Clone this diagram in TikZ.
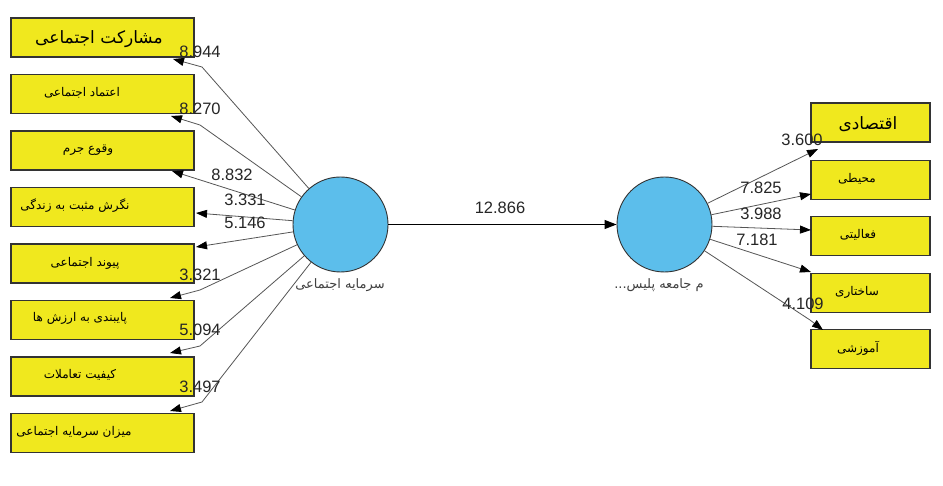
\documentclass[tikz,border=0pt]{standalone}
\usepackage{fontspec}
\setmainfont{Liberation Sans}
\newfontfamily\arabicfont[Script=Arabic]{DejaVu Sans}
\TeXXeTstate=1
\usetikzlibrary{arrows.meta}
\definecolor{boxyellow}{RGB}{240,232,30}
\definecolor{circblue}{RGB}{92,190,235}
\definecolor{linegray}{RGB}{85,85,85}
\tikzset{
  lbox/.style={draw=black!80, line width=1.1pt, fill=boxyellow, minimum width=183pt, minimum height=39pt, inner sep=0pt},
  rbox/.style={draw=black!80, line width=1.1pt, fill=boxyellow, minimum width=119pt, minimum height=39pt, inner sep=0pt},
  lv/.style={draw=black!80, line width=0.9pt, fill=circblue, circle, minimum size=95pt, inner sep=0pt},
  bigtxt/.style={font=\arabicfont\fontsize{17}{20}\selectfont, inner sep=0pt},
  smalltxt/.style={font=\arabicfont\fontsize{12}{14}\selectfont, inner sep=0pt},
  circtxt/.style={font=\arabicfont\fontsize{13}{15}\selectfont, text=black!75, inner sep=0pt},
  num/.style={font=\fontsize{16.5}{18}\selectfont, text=black!85, inner sep=0pt},
  arr/.style={draw=linegray, line width=0.8pt, -{Triangle[length=11pt,width=8pt,color=black]}},
  mainarr/.style={draw=black, line width=1.1pt, -{Triangle[length=12pt,width=9pt]}}
}
\begin{document}
\begin{tikzpicture}[x=1pt,y=-1pt]
\useasboundingbox[fill=white] (0,0) rectangle (943,486);
% left boxes
\node[lbox] (b1) at (102.5,37.5) {};
\node[lbox] (b2) at (102.5,94) {};
\node[lbox] (b3) at (102.5,150.5) {};
\node[lbox] (b4) at (102.5,207) {};
\node[lbox] (b5) at (102.5,263.5) {};
\node[lbox] (b6) at (102.5,320) {};
\node[lbox] (b7) at (102.5,376.5) {};
\node[lbox] (b8) at (102.5,433) {};
\node[bigtxt] (t1) at (99,39) {\beginR مشارکت اجتماعی\endR};
\node[smalltxt] (t2) at (82,93) {\beginR اعتماد اجتماعی\endR};
\node[smalltxt] (t3) at (88,150) {\beginR وقوع جرم\endR};
\node[smalltxt] (t4) at (75,206) {\beginR نگرش مثبت به زندگی\endR};
\node[smalltxt] (t5) at (85,263) {\beginR پیوند اجتماعی\endR};
\node[smalltxt] (t6) at (80,318) {\beginR پایبندی به ارزش ها\endR};
\node[smalltxt] (t7) at (80,375) {\beginR کیفیت تعاملات\endR};
\node[smalltxt] (t8) at (74,432) {\beginR میزان سرمایه اجتماعی\endR};
% right boxes
\node[rbox] (r1) at (870.5,122.5) {};
\node[rbox] (r2) at (870.5,180) {};
\node[rbox] (r3) at (870.5,236) {};
\node[rbox] (r4) at (870.5,293) {};
\node[rbox] (r5) at (870.5,349) {};
\node[bigtxt] (s1) at (868,124) {\beginR اقتصادی\endR};
\node[smalltxt] (s2) at (857,179) {\beginR محیطی\endR};
\node[smalltxt] (s3) at (858,235) {\beginR فعالیتی\endR};
\node[smalltxt] (s4) at (857,292) {\beginR ساختاری\endR};
\node[smalltxt] (s5) at (858,348) {\beginR آموزشی\endR};
% latent variables
\node[lv] (L) at (340.5,224.5) {};
\node[lv] (R) at (664.5,224.5) {};
\node[circtxt] (Llab) at (340,285) {\beginR سرمایه اجتماعی\endR};
\node[circtxt] (Rlab) at (659,285) {\beginR م جامعه پلیس...\endR};
% arrow points
\coordinate (k1) at (202,67);  \coordinate (p1) at (173,59);
\coordinate (k2) at (200,125); \coordinate (p2) at (171,116);
\coordinate (p3) at (172,171);
\coordinate (p4) at (196,213);
\coordinate (p5) at (196,247);
\coordinate (k6) at (200,290); \coordinate (p6) at (170,298);
\coordinate (k7) at (200,346); \coordinate (p7) at (170,353);
\coordinate (k8) at (202,402); \coordinate (p8) at (170,411);
\draw[arr] (L) -- (k1) -- (p1);
\draw[arr] (L) -- (k2) -- (p2);
\draw[arr] (L) -- (p3);
\draw[arr] (L) -- (p4);
\draw[arr] (L) -- (p5);
\draw[arr] (L) -- (k6) -- (p6);
\draw[arr] (L) -- (k7) -- (p7);
\draw[arr] (L) -- (k8) -- (p8);
\coordinate (q1) at (818,149);
\coordinate (q2) at (811,194);
\coordinate (q3) at (811,230);
\coordinate (q4) at (811,272);
\coordinate (m5) at (810,320); \coordinate (q5) at (823,330);
\draw[arr] (R) -- (q1);
\draw[arr] (R) -- (q2);
\draw[arr] (R) -- (q3);
\draw[arr] (R) -- (q4);
\draw[arr] (R) -- (m5) -- (q5);
\draw[mainarr] (L) -- (R);
% numbers
\node[num] (n1) at (200,52) {8.944};
\node[num] (n2) at (200,109) {8.270};
\node[num] (n3) at (232,175) {8.832};
\node[num] (n4) at (245,200) {3.331};
\node[num] (n5) at (245,223) {5.146};
\node[num] (n6) at (200,275) {3.321};
\node[num] (n7) at (200,330) {5.094};
\node[num] (n8) at (200,387) {3.497};
\node[num] (nm) at (500,208) {12.866};
\node[num] (o1) at (802,140) {3.600};
\node[num] (o2) at (761,188) {7.825};
\node[num] (o3) at (761,214) {3.988};
\node[num] (o4) at (757,240) {7.181};
\node[num] (o5) at (803,304) {4.109};
\end{tikzpicture}
\end{document}
